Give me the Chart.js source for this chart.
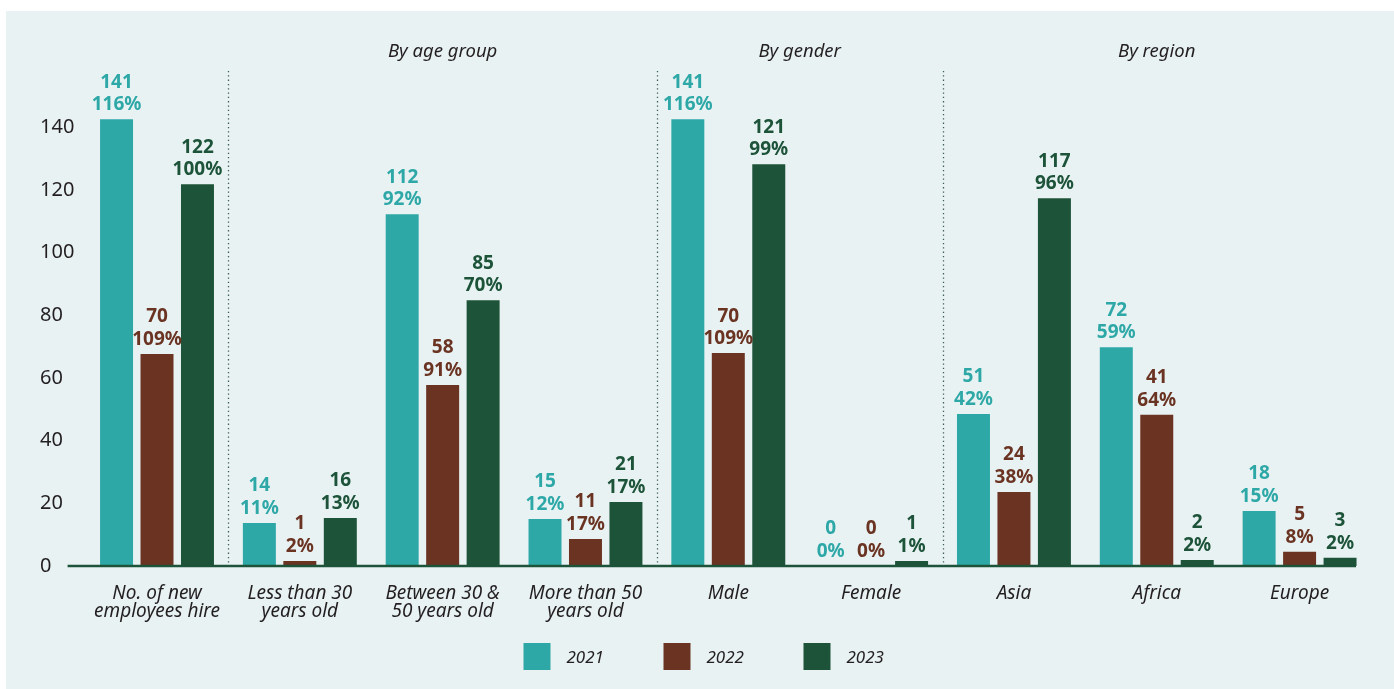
<!DOCTYPE html>
<html>
<head>
<meta charset="utf-8">
<script src="https://cdn.jsdelivr.net/npm/chart.js@4.4.1/dist/chart.umd.min.js"></script>
<style>
  html, body { margin: 0; padding: 0; background: #ffffff; }
  #panel { position: absolute; left: 6px; top: 11px; width: 1388px; height: 678px; background: #e8f2f3; }
  #c { display: block; }
</style>
</head>
<body>
<div id="panel"><canvas id="c" width="1388" height="678"></canvas></div>
<script>
const categories = [
  ['No. of new', 'employees hire'],
  ['Less than 30', 'years old'],
  ['Between 30 &', '50 years old'],
  ['More than 50', 'years old'],
  'Male', 'Female', 'Asia', 'Africa', 'Europe'
];
const sectionTitles = ['By age group', 'By gender', 'By region'];
const years = ['2021', '2022', '2023'];
const yTicks = [0, 20, 40, 60, 80, 100, 120, 140];

// bar heights as drawn in the picture
const bars2021 = [142.5, 13.7, 112.2, 15.0, 142.5, 0, 48.5, 69.8, 17.5];
const bars2022 = [67.6, 1.6, 57.7, 8.6, 67.9, 0, 23.6, 48.2, 4.5];
const bars2023 = [121.8, 15.3, 84.8, 20.4, 128.2, 1.6, 117.3, 1.9, 2.6];

// printed labels
const counts2021 = ['141', '14', '112', '15', '141', '0', '51', '72', '18'];
const pct2021 = ['116%', '11%', '92%', '12%', '116%', '0%', '42%', '59%', '15%'];
const counts2022 = ['70', '1', '58', '11', '70', '0', '24', '41', '5'];
const pct2022 = ['109%', '2%', '91%', '17%', '109%', '0%', '38%', '64%', '8%'];
const counts2023 = ['122', '16', '85', '21', '121', '1', '117', '2', '3'];
const pct2023 = ['100%', '13%', '70%', '17%', '99%', '1%', '96%', '2%', '2%'];

const colors = ['#2ea8a7', '#6a3322', '#1c5339'];
const textDark = '#231f20';
const FONT = '"Noto Sans", "Open Sans", sans-serif';

const labelTexts = [[counts2021, pct2021], [counts2022, pct2022], [counts2023, pct2023]];

const decorPlugin = {
  id: 'decor',
  afterDatasetsDraw(chart) {
    const ctx = chart.ctx;
    const x = chart.scales.x, y = chart.scales.y;
    const base = y.getPixelForValue(0);
    const ca = chart.chartArea;
    const step = x.getPixelForValue(1) - x.getPixelForValue(0);
    ctx.save();
    // baseline
    ctx.strokeStyle = '#1c5339';
    ctx.lineWidth = 2.5;
    ctx.beginPath();
    ctx.moveTo(ca.left - 18, base);
    ctx.lineTo(ca.right - 15, base);
    ctx.stroke();
    // separators
    const seps = [0.5, 3.5, 5.5].map(v => x.getPixelForValue(0) + v * step);
    ctx.strokeStyle = '#3c5f55';
    ctx.lineWidth = 1.3;
    ctx.setLineDash([1.3, 3]);
    seps.forEach(sx => {
      ctx.beginPath();
      ctx.moveTo(Math.round(sx) + 0.5, 60);
      ctx.lineTo(Math.round(sx) + 0.5, base);
      ctx.stroke();
    });
    ctx.setLineDash([]);
    // section titles
    ctx.fillStyle = textDark;
    ctx.font = 'italic 18.5px ' + FONT;
    ctx.textAlign = 'center';
    ctx.textBaseline = 'middle';
    const titleX = [(seps[0] + seps[1]) / 2, (seps[1] + seps[2]) / 2, x.getPixelForValue(7)];
    sectionTitles.forEach((t, i) => ctx.fillText(t, titleX[i], 41));
    // data labels
    ctx.font = 'bold 19px ' + FONT;
    chart.data.datasets.forEach((ds, di) => {
      const meta = chart.getDatasetMeta(di);
      ctx.fillStyle = colors[di];
      meta.data.forEach((bar, i) => {
        const [cnt, pct] = labelTexts[di];
        ctx.fillText(pct[i], bar.x, bar.y - 14.5);
        ctx.fillText(cnt[i], bar.x, bar.y - 37);
      });
    });
    // legend
    const itemStep = 140;
    const totalW = itemStep * 2 + 43 + 38;
    let lx = chart.width / 2 - totalW / 2 + 4;
    ctx.textAlign = 'left';
    ctx.font = 'italic 17px ' + FONT;
    years.forEach((yr, i) => {
      ctx.fillStyle = colors[i];
      ctx.fillRect(lx + i * itemStep, 632, 27, 27);
      ctx.fillStyle = textDark;
      ctx.fillText(yr, lx + i * itemStep + 43, 647);
    });
    ctx.restore();
  }
};

new Chart(document.getElementById('c'), {
  type: 'bar',
  data: {
    labels: categories,
    datasets: [
      { label: years[0], data: bars2021, backgroundColor: colors[0] },
      { label: years[1], data: bars2022, backgroundColor: colors[1] },
      { label: years[2], data: bars2023, backgroundColor: colors[2] }
    ]
  },
  options: {
    responsive: false,
    animation: false,
    events: [],
    layout: { padding: { left: 34, right: 23, top: 53.5, bottom: 49 } },
    datasets: { bar: { categoryPercentage: 0.85, barPercentage: 0.815 } },
    plugins: { legend: { display: false }, tooltip: { enabled: false } },
    scales: {
      x: {
        grid: { display: false, drawTicks: false },
        border: { display: false },
        ticks: {
          color: textDark,
          font: { family: FONT, size: 19, style: 'italic', lineHeight: 0.95 },
          padding: 19,
          maxRotation: 0,
          autoSkip: false
        }
      },
      y: {
        min: 0,
        max: 160,
        grid: { display: false, drawTicks: false },
        border: { display: false },
        afterBuildTicks: (s) => { s.ticks = yTicks.map(v => ({ value: v })); },
        afterFit: (s) => { s.width = 45.6; },
        ticks: {
          color: textDark,
          font: { family: FONT, size: 20 },
          padding: 10,
          crossAlign: 'far'
        }
      }
    }
  },
  plugins: [decorPlugin]
});
</script>
</body>
</html>
